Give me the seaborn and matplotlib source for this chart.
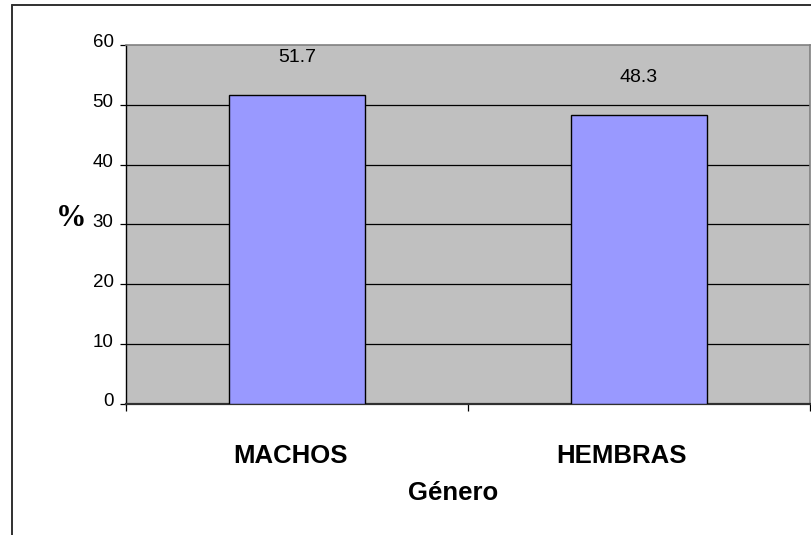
import matplotlib
matplotlib.use("Agg")
import matplotlib.pyplot as plt
from matplotlib.lines import Line2D
from matplotlib.transforms import ScaledTranslation
import seaborn as sns
import pandas as pd

categories = ["MACHOS", "HEMBRAS"]
percentages = [51.7, 48.3]
y_ticks = [0, 10, 20, 30, 40, 50, 60]

df = pd.DataFrame({"Género": categories, "pct": percentages})

sns.set_theme(style="white")
plt.rcParams["font.family"] = ["Liberation Sans", "DejaVu Sans"]
plt.rcParams.update({"text.color": "black", "axes.labelcolor": "black",
                     "xtick.color": "black", "ytick.color": "black"})

W, H = 811, 535
fig = plt.figure(figsize=(W / 100, H / 100), dpi=100)
fig.patch.set_facecolor("white")

# plot area in pixel coordinates
left, right, top, bottom = 126, 810, 45, 404
ax = fig.add_axes([left / W, (H - bottom) / H, (right - left) / W, (bottom - top) / H])
ax.set_facecolor("#C0C0C0")

sns.barplot(data=df, x="Género", y="pct", order=categories, color="#9999FF",
            width=0.4, edgecolor="black", linewidth=1.0, saturation=1, ax=ax, zorder=3)

ax.set_ylim(0, 60)
ax.set_xlim(-0.5, 1.5)
ax.set_yticks(y_ticks)
for v in y_ticks[1:-1]:
    ax.axhline(v, color="black", lw=0.9, zorder=1)

# value labels above each bar
for i, v in enumerate(percentages):
    ax.text(i, v + 6.2, f"{v:.1f}", ha="center", va="center", fontsize=14, color="black")

for s in ["top", "right"]:
    ax.spines[s].set_color("#808080")
    ax.spines[s].set_linewidth(1.2)
ax.spines["left"].set_color("black")
ax.spines["left"].set_linewidth(1.0)
ax.spines["bottom"].set_color("#303030")
ax.spines["bottom"].set_linewidth(1.6)

ax.tick_params(axis="y", which="major", left=True, length=4.5, width=0.9, color="black",
               labelsize=13.5, pad=4.5, labelcolor="black")
# y labels sit a little above their ticks
for lbl in ax.get_yticklabels():
    lbl.set_transform(lbl.get_transform() + ScaledTranslation(0, 0.04, fig.dpi_scale_trans))

# category labels, nudged left of the bar centres
px_per_unit = (right - left) / 2
label_shift = [-6.5, -17.5]
ax.set_xticks([i + d / px_per_unit for i, d in enumerate(label_shift)], categories)
ax.set_xticks([-0.5, 0.5, 1.5], minor=True)
ax.tick_params(axis="x", which="minor", bottom=True, length=5, width=0.9, color="black")
ax.tick_params(axis="x", which="major", bottom=False, length=0, pad=28.5, labelsize=18.5,
               labelcolor="black")
for lbl in ax.get_xticklabels():
    lbl.set_fontweight("bold")

ax.set_xlabel("Género", fontsize=18.5, fontweight="bold", labelpad=10, color="black")
ax.xaxis.label.set_x(0.5 - 15 / (right - left))
ax.set_ylabel("")
fig.text(71 / W, 1 - 219 / H, "%", fontsize=22, fontweight="bold",
         family=["Liberation Serif", "DejaVu Serif"], ha="center", va="center")

# outer chart frame
fig.add_artist(Line2D([12 / W, 1.0], [1 - 5 / H, 1 - 5 / H], color="#303030", lw=1.4,
                      transform=fig.transFigure))
fig.add_artist(Line2D([12 / W, 12 / W], [1 - 5 / H, 0.0], color="#303030", lw=1.4,
                      transform=fig.transFigure))

fig.savefig("out.png", dpi=100)
